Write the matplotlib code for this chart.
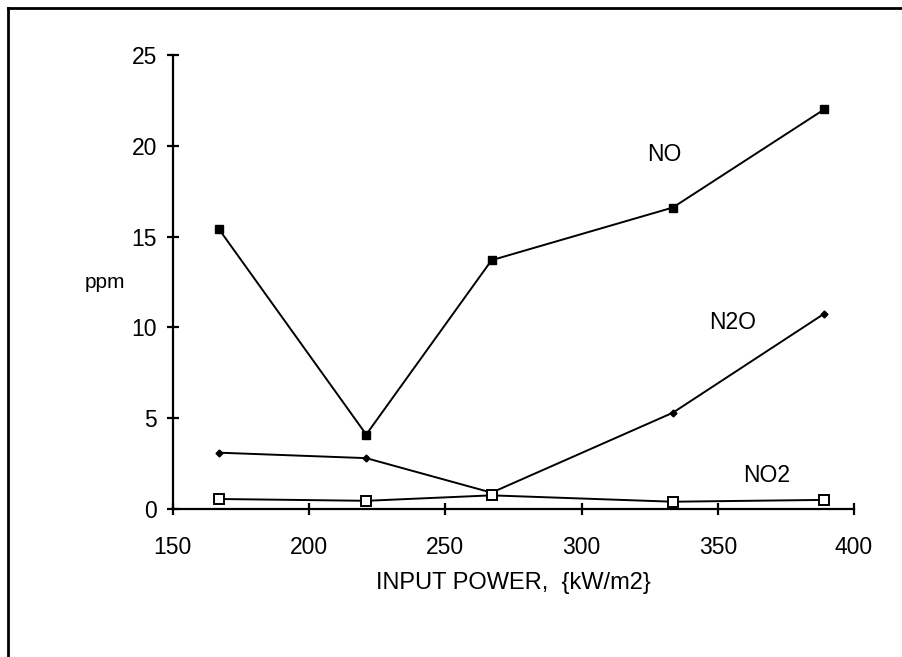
import matplotlib
matplotlib.use("Agg")
import matplotlib.pyplot as plt
from matplotlib.lines import Line2D

plt.rcParams['font.family'] = ['Liberation Sans', 'DejaVu Sans']

power = [167, 221, 267, 333.5, 389]
no = [15.4, 4.1, 13.7, 16.6, 22.0]
n2o = [3.1, 2.8, 0.9, 5.3, 10.75]
no2 = [0.55, 0.45, 0.75, 0.4, 0.5]

x_ticks = [150, 200, 250, 300, 350, 400]
y_ticks = [0, 5, 10, 15, 20, 25]

fig = plt.figure(figsize=(9.03, 6.57), dpi=100)
ax = fig.add_axes([0.1913, 0.2253, 0.7545, 0.691])

ax.plot(power, no, color='black', lw=1.4, marker='s', ms=5.5, mfc='black', mec='black')
ax.plot(power, n2o, color='black', lw=1.4, marker='D', ms=3.5, mfc='black', mec='black')
ax.plot(power, no2, color='black', lw=1.4, marker='s', ms=7, mfc='white', mec='black', mew=1.4)

ax.set_xlim(150, 400)
ax.set_ylim(0, 25)
ax.set_xticks(x_ticks)
ax.set_yticks(y_ticks)
for s in ['top', 'right']:
    ax.spines[s].set_visible(False)
for s in ['left', 'bottom']:
    ax.spines[s].set_linewidth(1.6)
ax.tick_params(direction='inout', length=9, width=1.6, labelsize=16.5)
ax.tick_params(axis='y', pad=7)
ax.tick_params(axis='x', pad=15)

ax.text(330.5, 19.5, 'NO', fontsize=16.5, ha='center', va='center')
ax.text(355.5, 10.25, 'N2O', fontsize=16.5, ha='center', va='center')
ax.text(368, 1.85, 'NO2', fontsize=16.5, ha='center', va='center')

fig.text(105 / 903, 1 - 283 / 657, 'ppm', fontsize=15, ha='center', va='center')
fig.text(513 / 903, 1 - 583 / 657, 'INPUT POWER,  {kW/m2}', fontsize=17, ha='center', va='center')

# scanned page frame
fig.add_artist(Line2D([8 / 903, 8 / 903], [0, 1 - 8 / 657], transform=fig.transFigure, color='black', lw=2))
fig.add_artist(Line2D([8 / 903, 1], [1 - 8 / 657, 1 - 8 / 657], transform=fig.transFigure, color='black', lw=2))

fig.savefig('out.png', dpi=100)
